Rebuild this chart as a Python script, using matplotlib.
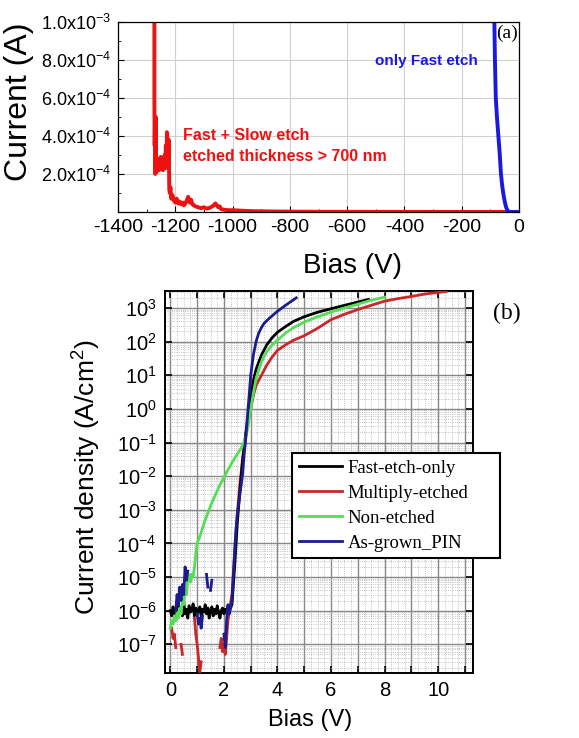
import matplotlib
matplotlib.use("Agg")
import matplotlib.pyplot as plt
import numpy as np
from matplotlib.ticker import MultipleLocator, LogLocator, FuncFormatter, NullFormatter

plt.rcParams["font.family"] = ["Liberation Sans", "DejaVu Sans"]
plt.rcParams["mathtext.default"] = "regular"
plt.rcParams["axes.unicode_minus"] = False

# ---- panel (a): breakdown I-V, negative bias ----
slow_bias = [-1273, -1273, -1272, -1271, -1270, -1269, -1268, -1267, -1266, -1265,
             -1263, -1261, -1259, -1257, -1255, -1253, -1251, -1249, -1247, -1245,
             -1243, -1241, -1239, -1237, -1235, -1233, -1231, -1229, -1227, -1225,
             -1223, -1221, -1219, -1217, -1214, -1210, -1205, -1200, -1195, -1190,
             -1185, -1180, -1175, -1170, -1165, -1160, -1155, -1150, -1145, -1140,
             -1135, -1130, -1120, -1110, -1100, -1090, -1080, -1070, -1060, -1055,
             -1050, -1045, -1040, -1030, -1020, -1000, -980, -960, -940, -920,
             -900, -870, -850, -800, -750, -700, -600, -500, -400, -300,
             -200, -100, -50, 0]
slow_current_e4 = [10.0, 6.0, 3.5, 4.5, 2.0, 3.0, 5.0, 2.2, 2.8, 2.1,
                   2.7, 2.3, 2.8, 2.2, 2.6, 2.4, 2.9, 2.3, 2.7, 2.5,
                   2.2, 2.8, 2.4, 3.0, 2.3, 3.5, 2.6, 4.2, 3.6, 2.5,
                   3.8, 1.2, 1.0, 1.3, 0.7, 0.9, 0.6, 0.5, 0.7, 0.45,
                   0.55, 0.4, 0.5, 0.35, 0.45, 0.6, 0.8, 0.5, 0.65, 0.4,
                   0.35, 0.3, 0.25, 0.2, 0.25, 0.18, 0.22, 0.3, 0.45, 0.35,
                   0.25, 0.3, 0.15, 0.12, 0.1, 0.09, 0.08, 0.06, 0.05, 0.04,
                   0.04, 0.03, 0.025, 0.02, 0.015, 0.012, 0.01, 0.008, 0.006, 0.005,
                   0.004, 0.003, 0.002, 0.002]
fast_bias = [-86, -84, -81, -77, -72, -67, -63, -58, -53, -49, -45, -41, -37, -30, -15, 0]
fast_current = [1e-3, 8e-4, 6e-4, 5e-4, 4e-4, 3e-4, 2e-4, 1.3e-4, 8e-5, 5e-5,
                2.5e-5, 1e-5, 2e-6, 5e-7, 2e-7, 1e-7]
a_yticks = [2e-4, 4e-4, 6e-4, 8e-4, 1e-3]
a_yticklabels = [r"2.0x10$^{-4}$", r"4.0x10$^{-4}$", r"6.0x10$^{-4}$",
                 r"8.0x10$^{-4}$", r"1.0x10$^{-3}$"]

# ---- panel (b): forward J-V (nan = gap in the log trace) ----
fe_bias = [0.0, 0.05, 0.1, 0.15, 0.2, 0.25, 0.3, 0.35, 0.4, 0.45, 0.5, 0.55, 0.6, 0.65, 0.7,
           0.75, 0.8, 0.85, 0.9, 0.95, 1.0, 1.05, 1.1, 1.15, 1.2, 1.25, 1.3, 1.35, 1.4, 1.45,
           1.5, 1.55, 1.6, 1.65, 1.7, 1.75, 1.8, 1.85, 1.9, 1.95, 2.0, 2.05, 2.1, 2.15, 2.2,
           2.3, 2.4, 2.5, 2.6, 2.7, 2.8, 2.9, 3.0, 3.1, 3.2,
           3.4, 3.6, 3.8, 4.0, 4.3, 4.6, 5.0, 5.5, 6.0, 6.5, 7.0, 7.4]
fe_j = [1.0e-6, 7e-7, 1.3e-6, 8e-7, 1.1e-6, 6e-7, 1.5e-6, 9e-7, 1.2e-6, 7e-7, 1.8e-6, 8e-7,
        1.1e-6, 6e-7, 1.4e-6, 9e-7, 1.0e-6, 1.6e-6, 7e-7, 1.2e-6, 8e-7, 1.0e-6, 1.3e-6, 7e-7,
        1.1e-6, 9e-7, 1.5e-6, 8e-7, 1.2e-6, 6e-7, 1.0e-6, 1.3e-6, 7e-7, 1.1e-6, 8e-7, 1.4e-6,
        9e-7, 6e-7, 1.0e-6, 1.2e-6, 8e-7, 1.1e-6, 9e-7, 1.3e-6, 1.0e-6,
        1.5e-6, 2e-5, 4e-4, 4e-3, 3e-2, 1.5e-1, 6e-1, 2.0, 7.0, 15.0,
        40, 80, 130, 190, 280, 400, 550, 750, 950, 1200, 1500, 1800]

me_bias = [0.05, 0.1, 0.15, 0.2, 0.25, 0.4, 0.45, 0.5,
           0.9, 0.95, 1.0, 1.05, 1.1, 1.15, 1.2,
           1.85, 1.9, 1.95, 2.0, 2.05, 2.1, 2.15, 2.2,
           2.3, 2.4, 2.5, 2.6, 2.7, 2.8, 2.9, 3.0, 3.1, 3.2, 3.4, 3.6, 3.8, 4.0, 4.3, 4.6,
           5.0, 5.5, 6.0, 6.5, 7.0, 7.5, 8.0, 8.5, 9.0, 9.5, 10.0, 10.3]
me_j = [3e-7, 1.5e-7, 2e-7, 8e-8, np.nan, 1e-7, 5e-8, np.nan,
        6e-7, 2e-7, 1e-7, 4e-8, 1.5e-8, 3e-8, np.nan,
        8e-8, 1.5e-7, 6e-8, 1e-7, 5e-8, 1.5e-7, 5e-7, 1e-6,
        3e-6, 5e-5, 8e-4, 6e-3, 3.5e-2, 1.2e-1, 4e-1, 1.0, 2.5, 5.0, 10, 20, 35, 55, 80, 110,
        150, 250, 450, 650, 900, 1200, 1600, 1900, 2200, 2600, 2900, 3100]

ne_bias = [0.0, 0.05, 0.1, 0.15, 0.2, 0.25, 0.3, 0.35, 0.4, 0.45, 0.5, 0.55, 0.6, 0.65, 0.7,
           0.75, 0.8, 0.85, 0.9, 0.95, 1.0,
           1.1, 1.2, 1.3, 1.4, 1.5, 1.6, 1.7, 1.8, 1.9, 2.0, 2.1, 2.2, 2.3, 2.4, 2.5, 2.6,
           2.7, 2.8, 2.9, 3.0, 3.1, 3.2, 3.4, 3.6, 3.8, 4.0, 4.3, 4.6,
           5.0, 5.5, 6.0, 6.5, 7.0, 7.5, 8.0]
ne_j = [3e-7, 5e-7, 4e-7, 7e-7, 5e-7, 9e-7, 6e-7, 1.2e-6, 8e-7, 2e-6, 1.5e-6, 4e-6, 3e-6,
        8e-6, 1.2e-5, 7e-6, 1.2e-5, 1.0e-5, 2e-5, 5e-5, 1e-4,
        1.6e-4, 2.8e-4, 5e-4, 8e-4, 1.3e-3, 2e-3, 3e-3, 4.5e-3, 6.5e-3, 9e-3, 1.3e-2, 1.8e-2,
        2.5e-2, 3.4e-2, 4.5e-2, 6e-2, 8e-2, 1.3e-1, 3e-1, 1.0, 3.0, 8.0, 25, 50, 80, 110, 180, 260,
        380, 550, 750, 1000, 1300, 1700, 2100]

ag_bias = [0.2, 0.25, 0.3, 0.35, 0.4, 0.45, 0.5, 0.55, 0.6, 0.65, 0.7,
           1.0, 1.05, 1.1, 1.15, 1.2, 1.25,
           1.35, 1.4, 1.45, 1.5, 1.55, 1.6,
           2.0, 2.05, 2.1, 2.15, 2.2, 2.25, 2.3, 2.35, 2.4, 2.45, 2.5, 2.55, 2.6, 2.65, 2.7,
           2.75, 2.8, 2.85, 2.9, 2.95, 3.0, 3.05, 3.1, 3.2, 3.3, 3.4, 3.5, 3.7, 4.0, 4.3, 4.7]
ag_j = [1e-6, 3e-6, 1.5e-6, 5e-6, 2e-6, 6e-6, 3e-6, 2e-5, 8e-6, 1.5e-5, np.nan,
        8e-7, 4e-7, 6e-7, 3e-7, 7e-7, np.nan,
        1.2e-5, 5e-6, np.nan, 4e-6, 8e-6, np.nan,
        2e-7, 8e-8, 5e-7, 1.5e-6, 8e-7, 1.2e-6, 2e-6, 1e-5, 6e-5, 2.5e-4, 7e-4, 1.5e-3, 3e-3,
        6e-3, 1.2e-2, 4e-2, 1e-1, 3e-1, 1.0, 3.0, 10, 20, 40, 100, 180, 260, 350, 500, 800,
        1200, 2000]

fig = plt.figure(figsize=(5.79, 7.38), dpi=100)

# ---------------- (a) ----------------
ax1 = fig.add_axes([118 / 579, 1 - 212 / 738, 401 / 579, 190 / 738])
ax1.plot(slow_bias, np.array(slow_current_e4) * 1e-4, color="#ee1111", lw=2.8)
ax1.plot(fast_bias, fast_current, color="#1a1adc", lw=2.8)
ax1.set_xlim(-1400, 0)
ax1.set_ylim(0, 1e-3)
ax1.set_xticks(range(-1400, 1, 200))
ax1.set_yticks(a_yticks)
ax1.set_yticklabels(a_yticklabels)
ax1.xaxis.set_minor_locator(MultipleLocator(100))
ax1.yaxis.set_minor_locator(MultipleLocator(1e-4))
ax1.grid(True, which="major", color="#d0d0d0", lw=0.8)
ax1.tick_params(which="both", direction="in")
ax1.tick_params(axis="x", labelsize=14)
ax1.tick_params(axis="y", labelsize=13)
ax1.tick_params(which="major", length=4, pad=5)
ax1.tick_params(which="minor", length=2.5)
for s in ax1.spines.values():
    s.set_linewidth(0.9)
ax1.set_ylabel("Current (A)", fontsize=23)
ax1.yaxis.set_label_coords(-0.21, 0.58)
ax1.set_xlabel("Bias (V)", fontsize=20)
ax1.xaxis.set_label_coords(0.584, -0.215)
ax1.text(-322, 7.95e-4, "only Fast etch", color="#1a1adc", fontsize=11,
         fontweight="bold", ha="center", va="center")
ax1.text(-1172, 3.45e-4, "Fast + Slow etch\netched thickness > 700 nm", color="#ee1111",
         fontsize=11.5, fontweight="bold", ha="left", va="center", linespacing=1.5)
ax1.text(0.998, 0.985, "(a)", transform=ax1.transAxes, ha="right", va="top",
         fontsize=14, family="Liberation Serif")

# ---------------- (b) ----------------
ax2 = fig.add_axes([165 / 579, 1 - 673 / 738, 308 / 579, 382 / 738])
ax2.set_yscale("log")
l_fe, = ax2.plot(fe_bias, fe_j, color="black", lw=2, zorder=4, label="Fast-etch-only")
l_me, = ax2.plot(me_bias, me_j, color="#c8282a", lw=2, zorder=3, label="Multiply-etched")
l_ne, = ax2.plot(ne_bias, ne_j, color="#55dd55", lw=2, zorder=5, label="Non-etched")
l_ag, = ax2.plot(ag_bias, ag_j, color="#1c1c8c", lw=2, zorder=6, label="As-grown_PIN")
ax2.set_xlim(-0.2, 11.3)
ax2.set_ylim(1.4e-8, 3.2e3)
ax2.xaxis.set_major_locator(MultipleLocator(1))
ax2.xaxis.set_major_formatter(FuncFormatter(lambda v, p: f"{v:.0f}" if round(v) % 2 == 0 else ""))
ax2.xaxis.set_minor_locator(MultipleLocator(0.25))
ax2.yaxis.set_major_locator(LogLocator(base=10, numticks=20))
ax2.yaxis.set_minor_locator(LogLocator(base=10, subs=np.arange(2, 10), numticks=20))
ax2.yaxis.set_minor_formatter(NullFormatter())
ax2.grid(True, which="major", color="#888888", lw=1.0)
ax2.grid(True, which="minor", color="#b0b0b0", lw=0.6, linestyle=":")
ax2.tick_params(which="major", direction="in", length=5, width=1.2, labelsize=14.5,
                top=True, right=True, pad=6)
ax2.tick_params(which="minor", direction="in", length=0)
for s in ax2.spines.values():
    s.set_linewidth(1.4)
ax2.set_ylabel("Current density (A/cm$^2$)", fontsize=19)
ax2.yaxis.set_label_coords(-0.201, 0.513)
ax2.set_xlabel("Bias (V)", fontsize=17)
ax2.xaxis.set_label_coords(0.47, -0.095)
fig.text(507 / 579, 1 - 313 / 738, "(b)", ha="center", va="center", fontsize=17,
         family="Liberation Serif")

leg = ax2.legend(handles=[l_fe, l_me, l_ne, l_ag], loc="upper left",
                 bbox_to_anchor=(292 / 579, 0.248, 208 / 579, 1 - 453 / 738 - 0.248),
                 bbox_transform=fig.transFigure, mode="expand", borderaxespad=0,
                 prop={"family": "Liberation Serif", "size": 13.5}, handlelength=2.3,
                 handletextpad=0.3, borderpad=0.35, labelspacing=0.42,
                 fancybox=False, framealpha=1, edgecolor="black")
leg.get_frame().set_linewidth(1.5)
leg.set_zorder(10)

fig.savefig("out.png", dpi=100)
